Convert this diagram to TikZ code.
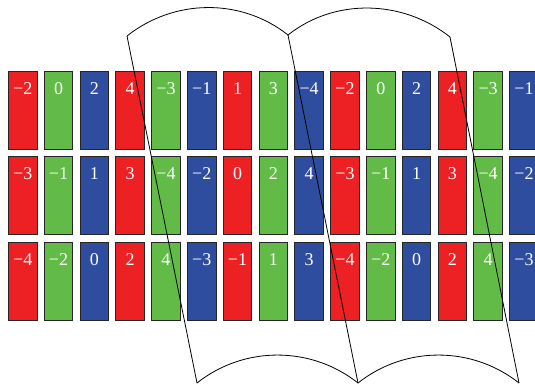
\documentclass[tikz,border=0pt]{standalone}
\usepackage{fontspec}
\setmainfont{Liberation Serif}
\definecolor{cred}{HTML}{ED2024}
\definecolor{cgreen}{HTML}{62BB47}
\definecolor{cblue}{HTML}{2E4D9F}
\newcommand{\signednum}[1]{\ifnum#1<0 −\number\numexpr-#1\relax\else#1\fi}
\begin{document}
\begin{tikzpicture}[x=1pt,y=-1pt,
  cell/.style={draw=black!85, line width=0.9pt, anchor=north west, inner sep=0pt,
    minimum width=28.6pt, minimum height=78pt, text width=28.6pt, align=center,
    text height=23pt, text depth=55pt, text=white, font=\fontsize{18}{18}\selectfont},
  lens/.style={draw=black, line width=0.8pt}]
\useasboundingbox (0,0) rectangle (535,386);
\clip (0,0) rectangle (535,386);
\foreach \r/\yy in {1/71, 2/156.3, 3/241.6}{
  \foreach \c in {0,...,14}{
    \pgfmathtruncatemacro{\m}{mod(\c,3)}
    \pgfmathtruncatemacro{\k}{mod(\c+4*(\r-1),9)}
    \pgfmathtruncatemacro{\v}{{-2,0,2,4,-3,-1,1,3,-4}[\k]}
    \ifcase\m \def\col{cred}\or \def\col{cgreen}\or \def\col{cblue}\fi
    \node[cell, fill=\col] (b-\r-\c) at ({8+35.8*\c},\yy) {\signednum{\v}};
  }
}
\coordinate (t1) at (127,36);
\coordinate (t2) at (288,35);
\coordinate (t3) at (450,37);
\coordinate (d1) at (197,383);
\coordinate (d2) at (358,383);
\coordinate (d3) at (519,383);
\draw[lens] (t1) .. controls +(-38.4:60) and +(-141.6:60) .. (t2)
                 .. controls +(-38.4:60) and +(-141.6:60) .. (t3);
\draw[lens] (d1) .. controls +(-38.4:60) and +(-141.6:60) .. (d2)
                 .. controls +(-38.4:60) and +(-141.6:60) .. (d3);
\draw[lens] (t1) -- (d1);
\draw[lens] (t2) -- (d2);
\draw[lens] (t3) -- (d3);
\end{tikzpicture}
\end{document}
